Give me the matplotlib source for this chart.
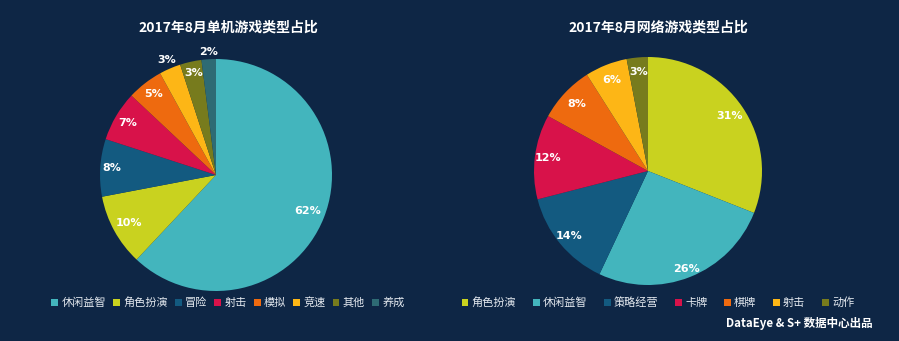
import numpy as np
import matplotlib.pyplot as plt

plt.rcParams['font.family'] = ['Noto Sans CJK SC', 'DejaVu Sans']

# ---------------- data ----------------
single_labels = ["休闲益智", "角色扮演", "冒险", "射击", "模拟", "竞速", "其他", "养成"]
single_values = [62, 10, 8, 7, 5, 3, 3, 2]
online_labels = ["角色扮演", "休闲益智", "策略经营", "卡牌", "棋牌", "射击", "动作"]
online_values = [31, 26, 14, 12, 8, 6, 3]

bg = "#0e2645"
teal = "#43b5bd"
lime = "#c9d21f"
blue = "#135a80"
red = "#d8124a"
orange = "#ee6a0f"
amber = "#fdb616"
olive = "#777b1d"
dteal = "#2e6b74"

single_colors = [teal, lime, blue, red, orange, amber, olive, dteal]
online_colors = [lime, teal, blue, red, orange, amber, olive]
# distance of each % label from centre (in radii)
single_lr = [0.85, 0.86, 0.9, 0.88, 0.88, 1.08, 0.9, 1.06]
online_lr = [0.86, 0.92, 0.9, 0.88, 0.86, 0.86, 0.87]

fig = plt.figure(figsize=(8.99, 3.41), dpi=100)
fig.patch.set_facecolor(bg)


def draw_pie(rect, values, colors, lr, title, labels, leg_x, colsp):
    ax = fig.add_axes(rect)
    ax.set_facecolor(bg)
    wedges, _ = ax.pie(values, colors=colors, startangle=90, counterclock=False,
                       radius=1, wedgeprops=dict(linewidth=0))
    for w, v, r in zip(wedges, values, lr):
        ang = np.deg2rad((w.theta1 + w.theta2) / 2)
        ax.text(r * np.cos(ang), r * np.sin(ang), f"{v}%", color="white",
                fontsize=8, fontweight="bold", ha="center", va="center",
                family="DejaVu Sans")
    ax.set_xlim(-1, 1)
    ax.set_ylim(-1, 1)
    ax.set_aspect("equal")
    ax.axis("off")
    fig.text(leg_x, 0.918, title, color="white", fontsize=10, fontweight="bold",
             ha="center", va="center")
    fig.legend(wedges, labels, loc="center", bbox_to_anchor=(leg_x, 0.112),
               ncol=len(labels), frameon=False, handlelength=0.6,
               handleheight=0.6, handletextpad=0.3, columnspacing=colsp,
               fontsize=8, labelcolor="#e4e9ef")


draw_pie([100 / 899, 50 / 341, 232 / 899, 232 / 341], single_values, single_colors,
         single_lr, "2017年8月单机游戏类型占比", single_labels, 228 / 899, 0.65)
draw_pie([534 / 899, 56 / 341, 228 / 899, 228 / 341], online_values, online_colors,
         online_lr, "2017年8月网络游戏类型占比", online_labels, 658 / 899, 1.5)

fig.text(873 / 899, 0.05, "DataEye & S+ 数据中心出品", color="white", fontsize=8.3,
         fontweight="bold", ha="right", va="center")

fig.savefig("out.png", dpi=100, facecolor=bg)
